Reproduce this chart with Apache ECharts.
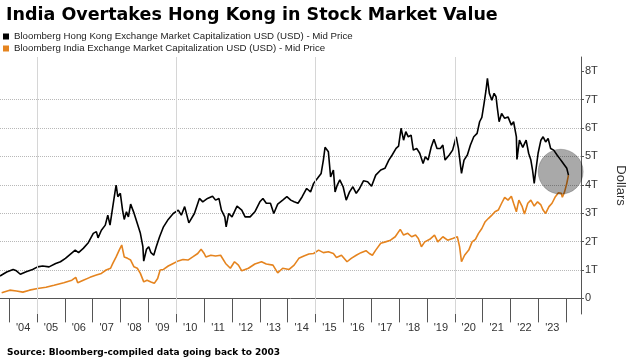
<!DOCTYPE html>
<html>
<head>
<meta charset="utf-8">
<script src="https://cdn.jsdelivr.net/npm/echarts@6/dist/echarts.min.js"></script>
<style>
html,body{margin:0;padding:0;background:#fff;}
#chart{width:635px;height:357px;}
</style>
</head>
<body>
<div id="chart"></div>
<script>
// ---- Data (values in trillions of USD, time in decimal years) ----
const titleText = 'India Overtakes Hong Kong in Stock Market Value';
const sourceText = 'Source: Bloomberg-compiled data going back to 2003';
const hkName = 'Bloomberg Hong Kong Exchange Market Capitalization USD (USD) - Mid Price';
const inName = 'Bloomberg India Exchange Market Capitalization USD (USD) - Mid Price';

const hkTime = [2003.67,2003.91,2004.14,2004.26,2004.40,2004.61,2004.84,2005.02,2005.20,2005.43,2005.67,2005.84,2006.02,2006.20,2006.37,2006.49,2006.66,2006.84,2007.02,2007.13,2007.19,2007.31,2007.45,2007.54,2007.62,2007.72,2007.80,2007.84,2007.90,2007.99,2008.07,2008.13,2008.21,2008.28,2008.36,2008.48,2008.60,2008.71,2008.80,2008.83,2008.93,2009.01,2009.09,2009.19,2009.28,2009.40,2009.54,2009.71,2009.89,2010.07,2010.18,2010.30,2010.45,2010.65,2010.83,2010.95,2011.12,2011.30,2011.41,2011.53,2011.62,2011.74,2011.79,2011.88,2012.00,2012.18,2012.35,2012.47,2012.65,2012.82,2013.00,2013.11,2013.23,2013.38,2013.50,2013.64,2013.82,2013.97,2014.11,2014.23,2014.37,2014.52,2014.68,2014.82,2014.93,2015.07,2015.20,2015.28,2015.34,2015.46,2015.54,2015.64,2015.70,2015.78,2015.87,2015.99,2016.10,2016.22,2016.34,2016.46,2016.58,2016.72,2016.87,2017.01,2017.16,2017.34,2017.49,2017.63,2017.75,2017.89,2017.98,2018.07,2018.16,2018.24,2018.33,2018.43,2018.51,2018.63,2018.74,2018.86,2018.94,2019.04,2019.15,2019.25,2019.36,2019.48,2019.57,2019.65,2019.80,2019.92,2020.05,2020.13,2020.21,2020.24,2020.33,2020.45,2020.56,2020.68,2020.80,2020.89,2020.97,2021.05,2021.12,2021.17,2021.24,2021.33,2021.41,2021.48,2021.52,2021.59,2021.68,2021.79,2021.91,2022.03,2022.11,2022.21,2022.23,2022.32,2022.44,2022.56,2022.65,2022.73,2022.79,2022.85,2022.91,2022.99,2023.09,2023.17,2023.26,2023.35,2023.44,2023.55,2023.67,2023.76,2023.85,2023.94,2024.02,2024.08];
const hkValue = [0.79,0.93,1.02,0.97,0.85,0.94,1.02,1.11,1.14,1.11,1.23,1.29,1.41,1.56,1.70,1.61,1.76,1.96,2.29,2.35,2.13,2.40,2.58,2.93,2.58,3.23,3.75,3.99,3.58,3.70,3.11,2.78,3.05,2.87,3.32,3.01,2.64,2.29,1.82,1.31,1.73,1.82,1.61,1.52,1.82,2.17,2.52,2.78,2.99,3.11,2.93,3.23,2.66,2.99,3.52,3.40,3.52,3.60,3.46,3.52,3.11,2.87,2.52,2.99,2.87,3.25,3.11,2.87,2.87,3.05,3.40,3.52,3.35,3.35,2.99,3.32,3.46,3.58,3.46,3.40,3.35,3.58,3.87,3.75,4.05,4.23,4.40,4.87,5.32,5.16,4.28,4.52,3.75,3.99,4.17,3.93,3.46,3.75,3.93,3.70,3.87,4.14,4.11,3.95,4.34,4.52,4.58,4.87,5.05,5.28,5.36,5.99,5.57,5.87,5.69,5.75,5.22,5.28,5.11,4.75,4.99,4.87,5.32,5.60,5.28,5.28,5.40,4.87,5.05,5.22,5.69,5.28,4.63,4.40,4.87,5.05,5.40,5.69,5.81,6.22,6.37,6.87,7.33,7.75,7.22,6.98,7.22,7.10,6.75,6.22,6.51,6.34,6.39,6.10,6.22,5.69,4.89,5.57,5.32,5.57,5.11,4.87,4.52,4.05,4.52,5.11,5.57,5.69,5.51,5.63,5.28,5.22,5.05,4.93,4.81,4.69,4.58,4.34];

const inTime = [2003.73,2004.02,2004.26,2004.49,2004.73,2005.02,2005.32,2005.61,2005.96,2006.25,2006.39,2006.46,2006.66,2006.90,2007.13,2007.31,2007.48,2007.64,2007.72,2007.84,2007.95,2008.04,2008.13,2008.25,2008.36,2008.48,2008.60,2008.71,2008.83,2008.95,2009.09,2009.21,2009.33,2009.42,2009.54,2009.71,2009.89,2010.07,2010.24,2010.42,2010.59,2010.77,2010.89,2011.00,2011.06,2011.24,2011.41,2011.59,2011.77,2011.94,2012.09,2012.23,2012.35,2012.59,2012.82,2013.06,2013.23,2013.47,2013.64,2013.82,2014.05,2014.23,2014.40,2014.58,2014.76,2014.93,2015.11,2015.28,2015.46,2015.64,2015.75,2015.93,2016.13,2016.28,2016.46,2016.63,2016.81,2016.93,2017.04,2017.16,2017.34,2017.51,2017.69,2017.86,2018.04,2018.16,2018.31,2018.45,2018.59,2018.69,2018.80,2018.92,2019.10,2019.27,2019.39,2019.57,2019.74,2019.92,2020.09,2020.17,2020.24,2020.35,2020.50,2020.62,2020.74,2020.85,2020.97,2021.09,2021.21,2021.33,2021.44,2021.56,2021.68,2021.79,2021.91,2022.03,2022.11,2022.21,2022.30,2022.42,2022.50,2022.62,2022.73,2022.85,2022.97,2023.09,2023.17,2023.26,2023.38,2023.49,2023.61,2023.72,2023.82,2023.86,2023.94,2024.02,2024.08];
const inValue = [0.20,0.29,0.26,0.22,0.29,0.35,0.39,0.46,0.55,0.64,0.74,0.55,0.64,0.74,0.82,0.88,1.00,1.06,1.23,1.46,1.70,1.88,1.46,1.41,1.35,1.11,1.06,0.88,0.58,0.64,0.58,0.53,0.70,1.00,1.02,1.14,1.23,1.32,1.37,1.35,1.46,1.58,1.73,1.58,1.46,1.52,1.49,1.52,1.23,1.06,1.29,1.17,0.97,1.06,1.21,1.29,1.21,1.17,0.90,1.06,1.02,1.17,1.41,1.49,1.56,1.58,1.70,1.61,1.64,1.58,1.44,1.52,1.29,1.41,1.52,1.61,1.68,1.58,1.52,1.70,1.94,1.99,2.05,2.17,2.43,2.23,2.29,2.17,2.23,2.11,1.82,1.99,2.08,2.23,1.99,2.17,2.05,2.11,2.17,1.82,1.29,1.52,1.70,1.99,2.08,2.29,2.46,2.70,2.82,2.93,3.05,3.11,3.35,3.56,3.46,3.60,3.35,3.05,3.46,3.23,2.97,3.35,3.46,3.25,3.40,3.29,3.11,2.99,3.23,3.35,3.58,3.72,3.70,3.56,3.75,4.05,4.34];

const yearTicks = [2004,2005,2006,2007,2008,2009,2010,2011,2012,2013,2014,2015,2016,2017,2018,2019,2020,2021,2022,2023,2024];
const yearLabels = ["'04","'05","'06","'07","'08","'09","'10","'11","'12","'13","'14","'15","'16","'17","'18","'19","'20","'21","'22","'23"];
const yearLabelPos = [2004.5,2005.5,2006.5,2007.5,2008.5,2009.5,2010.5,2011.5,2012.5,2013.5,2014.5,2015.5,2016.5,2017.5,2018.5,2019.5,2020.5,2021.5,2022.5,2023.5];
const vGridYears = [2005,2010,2015,2020];
const yTicks = [0,1,2,3,4,5,6,7,8];
const yLabels = ['0','1T','2T','3T','4T','5T','6T','7T','8T'];
const highlight = [[2023.80, 4.46]];

const zip = (a, b) => a.map((t, i) => [t, b[i]]);

const chart = echarts.init(document.getElementById('chart'), null, {renderer: 'canvas'});
chart.setOption({
  animation: false,
  backgroundColor: '#fff',
  textStyle: {fontFamily: 'Liberation Sans'},
  title: [
    {text: titleText, left: 1, top: 1,
     textStyle: {fontFamily: 'DejaVu Sans', fontWeight: 'bold', fontSize: 17.5, color: '#000'}},
    {text: sourceText, left: 2, top: 343,
     textStyle: {fontFamily: 'DejaVu Sans', fontWeight: 'bold', fontSize: 9, color: '#000'}}
  ],
  legend: {
    orient: 'vertical', left: 3, top: 31, padding: 0,
    itemWidth: 6, itemHeight: 6, itemGap: 1,
    icon: 'rect',
    data: [hkName, inName],
    textStyle: {fontFamily: 'Liberation Sans', fontSize: 9.7, color: '#222', lineHeight: 11},
    selectedMode: false
  },
  grid: {left: 0, right: 42, top: 57, bottom: 43, containLabel: false},
  xAxis: {
    type: 'value', min: 2003.67, max: 2024.53,
    axisLine: {show: true, lineStyle: {color: '#555', width: 1}},
    axisTick: {show: true, customValues: yearTicks, length: 24, lineStyle: {color: '#555'}},
    axisLabel: {show: true, customValues: yearLabelPos, margin: 8, color: '#333', fontSize: 11,
      fontFamily: 'Liberation Sans',
      formatter: v => yearLabels[Math.floor(v) - 2004]},
    splitLine: {show: false}
  },
  yAxis: {
    type: 'value', position: 'right', min: -0.55, max: 8.5,
    name: 'Dollars', nameLocation: 'middle', nameRotate: -90, nameGap: 33,
    nameTextStyle: {fontSize: 13, color: '#333', fontFamily: 'Liberation Sans'},
    axisLine: {show: true, lineStyle: {color: '#555', width: 1}},
    axisTick: {show: true, customValues: yTicks, length: 3, lineStyle: {color: '#555'}},
    axisLabel: {show: true, customValues: yTicks, margin: 4, color: '#333', fontSize: 11,
      formatter: v => yLabels[yTicks.indexOf(Math.round(v))]},
    splitLine: {show: true, showMinLine: false, showMaxLine: false,
      lineStyle: {color: '#b8b8b8', type: 'dotted', width: 1}}
  },
  series: [
    {name: hkName, type: 'line', data: zip(hkTime, hkValue), showSymbol: false, symbol: 'none',
     lineStyle: {color: '#000', width: 1.6}, itemStyle: {color: '#000'}, z: 4, silent: true},
    {name: inName, type: 'line', data: zip(inTime, inValue), showSymbol: false, symbol: 'none',
     lineStyle: {color: '#e5841f', width: 1.6}, itemStyle: {color: '#e5841f'}, z: 3, silent: true,
     markLine: {silent: true, symbol: ['none', 'none'], label: {show: false},
       lineStyle: {color: '#d6d6d6', type: 'solid', width: 1},
       data: vGridYears.map(y => ({xAxis: y}))}},
    {name: 'highlight', type: 'scatter', data: highlight, symbol: 'circle', symbolSize: 45,
     itemStyle: {color: 'rgba(0,0,0,0.42)', borderColor: 'rgba(0,0,0,0.25)', borderWidth: 1},
     z: 6, silent: true}
  ]
});
</script>
</body>
</html>
